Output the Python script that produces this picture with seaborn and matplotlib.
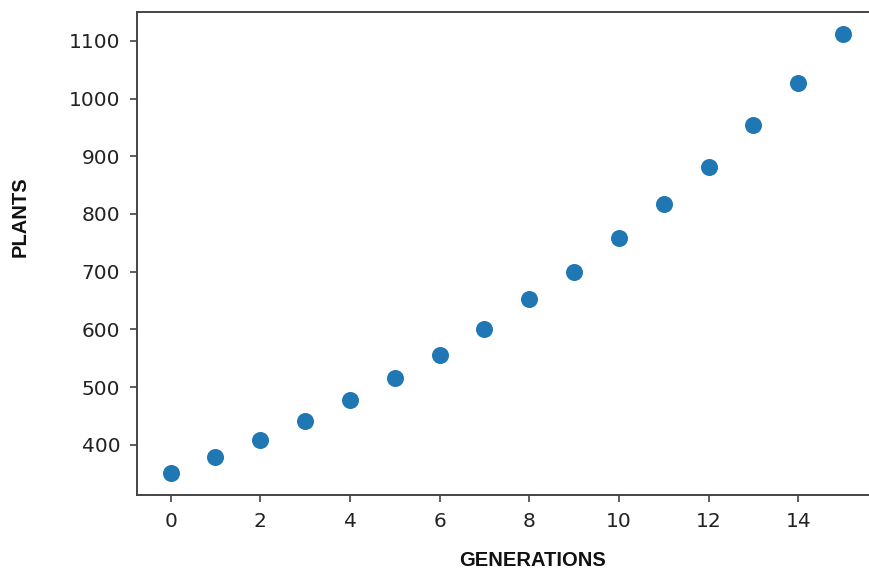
import matplotlib
matplotlib.use("Agg")
import matplotlib.pyplot as plt
import seaborn as sns
import pandas as pd

generations = list(range(16))
plants = [351, 379, 409, 442, 478, 516, 555, 601, 652, 700, 758, 817, 881, 954, 1027, 1112]
xticks = [0, 2, 4, 6, 8, 10, 12, 14]
yticks = [400, 500, 600, 700, 800, 900, 1000, 1100]

df = pd.DataFrame({"GENERATIONS": generations, "PLANTS": plants})

sns.set_style("ticks")
plt.rcParams["font.family"] = ["DejaVu Sans"]
fig = plt.figure(figsize=(8.69, 5.69), dpi=100)
ax = fig.add_axes([137/869, 1 - 495/569, 751/869, (495 - 12)/569])
sns.scatterplot(data=df, x="GENERATIONS", y="PLANTS", ax=ax,
                color="#1f77b4", s=150, linewidth=0)
ax.set_xlim(-0.75, 16.0)
ax.set_ylim(313, 1150)
ax.set_xticks(xticks)
ax.set_yticks(yticks)
ax.set_xlabel("")
ax.set_ylabel("")
ax.tick_params(axis="both", labelsize=14.5, length=5, width=1.1, pad=7,
               colors="#333333", labelcolor="#222222")
for sp in ax.spines.values():
    sp.set_linewidth(1.4)
    sp.set_color("#444444")
ax.spines["right"].set_visible(False)

fig.text(20/869, 1 - 217/569, "PLANTS", rotation=90, ha="center", va="center",
         fontsize=14.5, fontweight="bold", family=["Liberation Sans", "DejaVu Sans"], color="#111111")
fig.text(533/869, 1 - 560/569, "GENERATIONS", ha="center", va="center",
         fontsize=14.5, fontweight="bold", family=["Liberation Sans", "DejaVu Sans"], color="#111111")

fig.savefig("out.png", dpi=100)
